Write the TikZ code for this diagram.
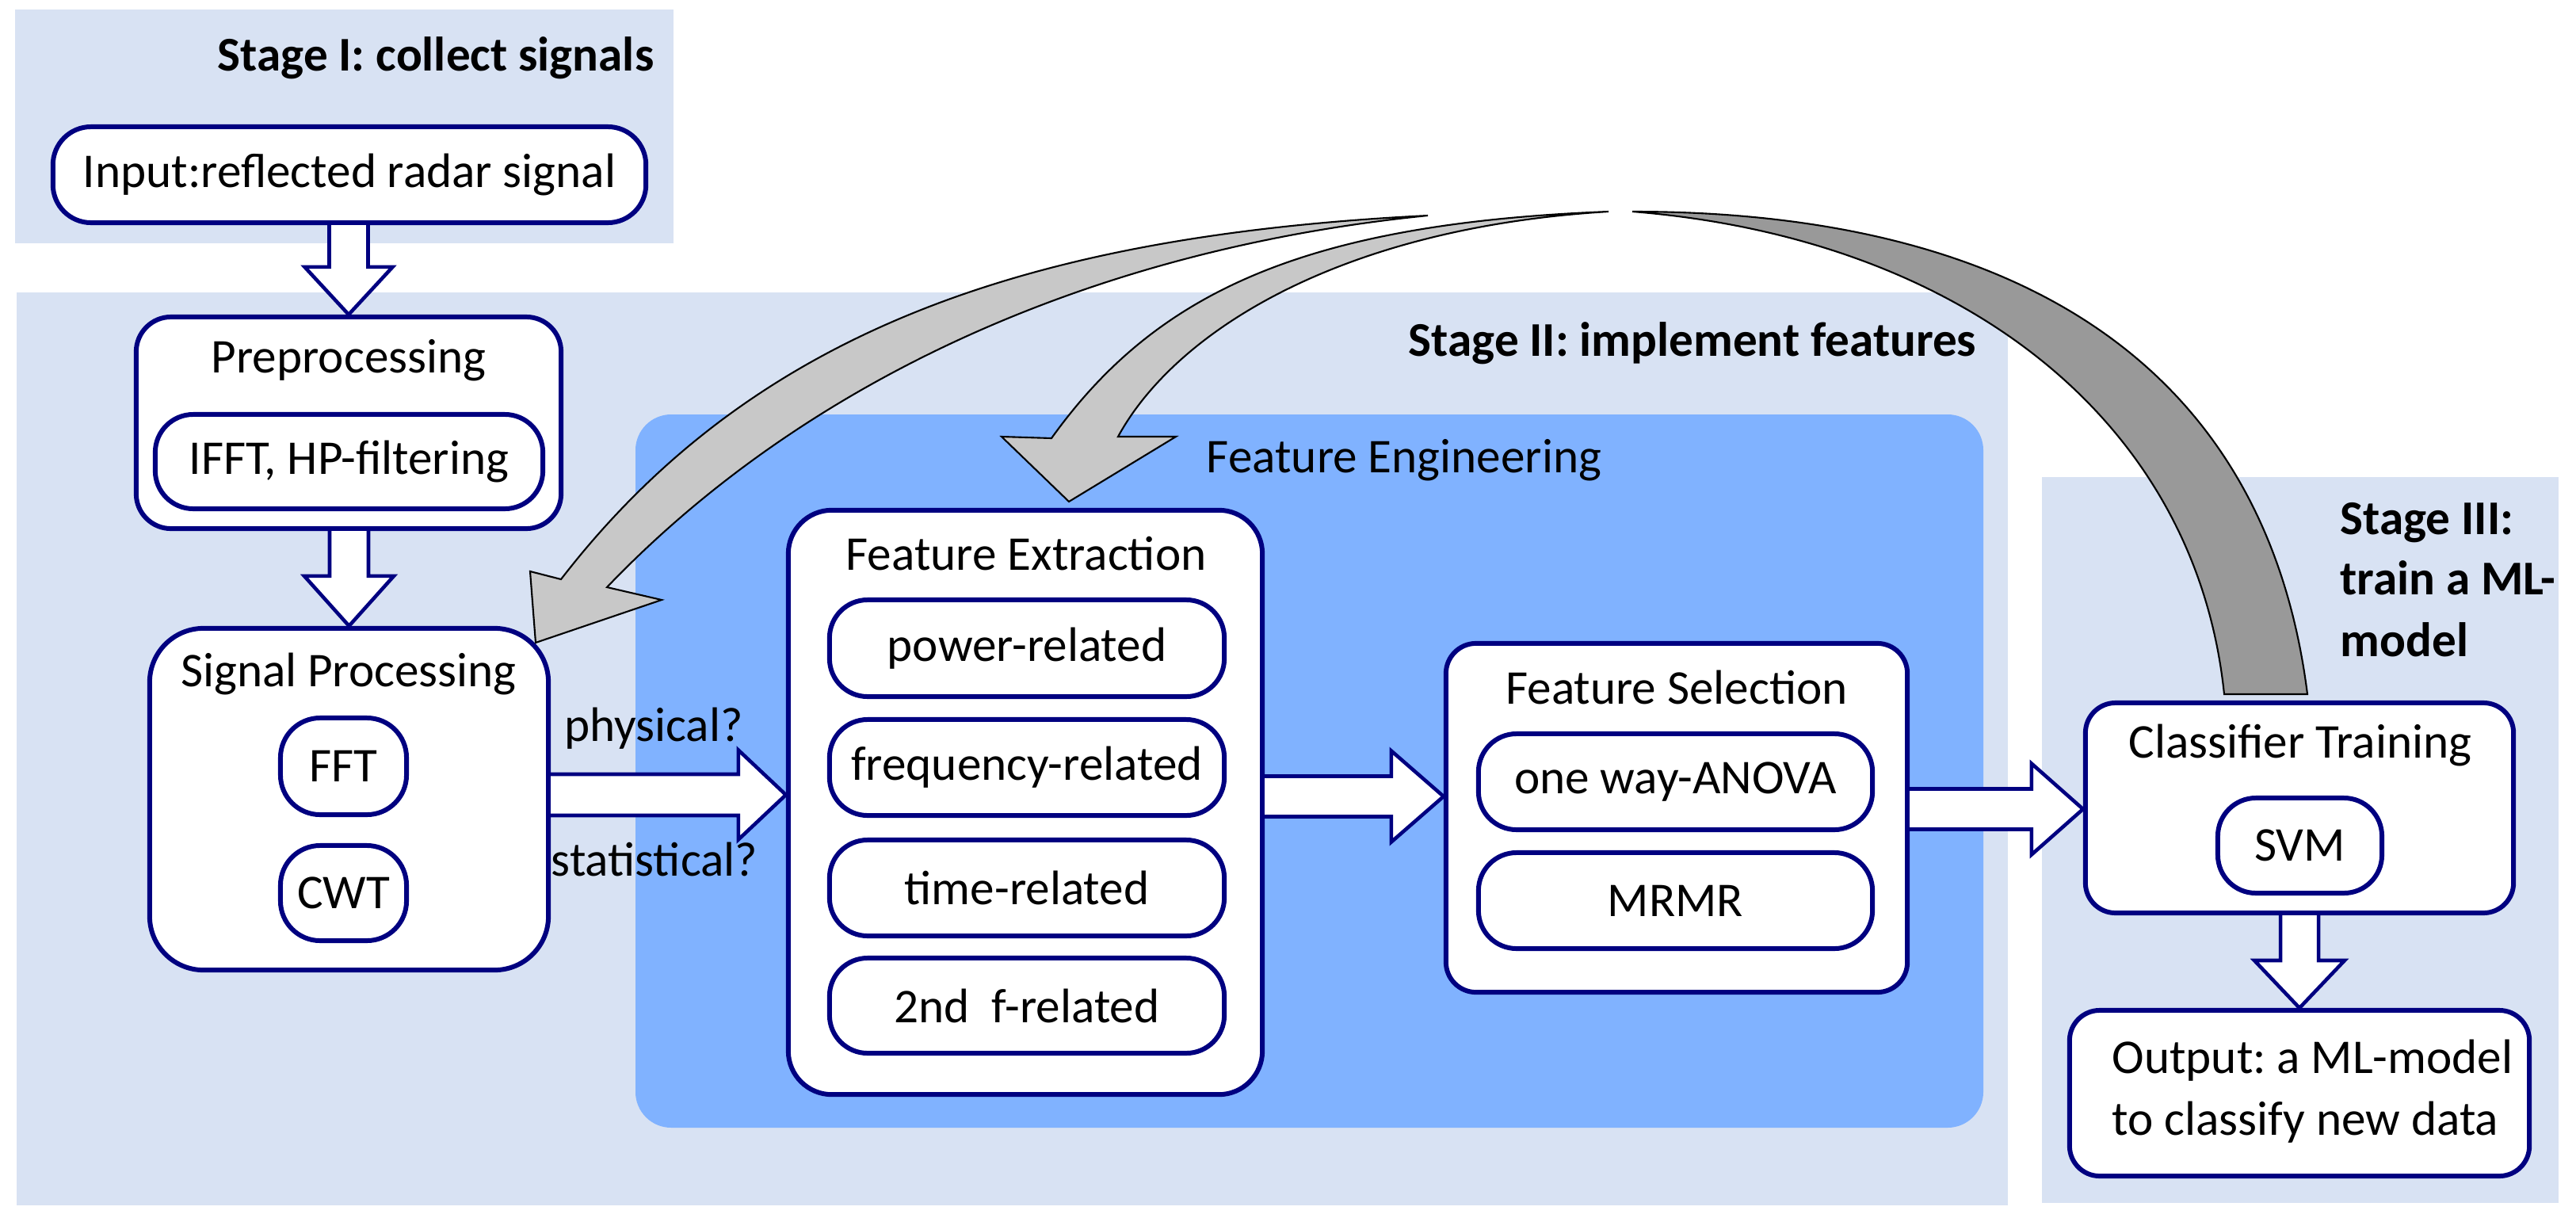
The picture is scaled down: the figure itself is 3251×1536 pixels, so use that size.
\documentclass[tikz,border=0pt]{standalone}
\usepackage{fontspec}
\setmainfont{Carlito}
\frenchspacing
\usetikzlibrary{calc}
\definecolor{navy}{RGB}{0,0,128}
\definecolor{stagefill}{RGB}{216,226,243}
\definecolor{fefill}{RGB}{128,178,255}
\definecolor{lgray}{RGB}{200,200,200}
\definecolor{dgray}{RGB}{153,153,153}
\tikzset{
  box/.style={draw=navy, line width=1.7pt, fill=white, inner sep=0pt, align=center},
  txt/.style={inner sep=0pt, anchor=base},
  stagelbl/.style={inner sep=0pt, font=\fontsize{17.4pt}{22.2pt}\selectfont\bfseries},
  barrow/.style={draw=navy, line width=1.3pt, fill=white, line join=miter},
  curved/.style={draw=black, line width=0.6pt, line join=miter},
}
% vertical block arrow: #1 from anchor, #2 to anchor (tip), #3 shaft half width, #4 head half width, #5 head length
\newcommand\VArrow[5]{%
  \filldraw[barrow] ($(#2|-#1)+(-#3,0)$) -- ($(#2)+(-#3,-#5)$) -- ($(#2)+(-#4,-#5)$) -- (#2)
    -- ($(#2)+(#4,-#5)$) -- ($(#2)+(#3,-#5)$) -- ($(#2|-#1)+(#3,0)$);}
% horizontal block arrow: #1 from anchor, #2 to anchor, #3 y offset of tip, #4 shaft half, #5 head half, #6 head length
\newcommand\HArrow[6]{%
  \coordinate (hatip) at ($(#2)+(0,#3)$);
  \filldraw[barrow] ($(#1|-hatip)+(0,-#4)$) -- ($(hatip)+(-#6,-#4)$) -- ($(hatip)+(-#6,-#5)$) -- (hatip)
    -- ($(hatip)+(-#6,#5)$) -- ($(hatip)+(-#6,#4)$) -- ($(#1|-hatip)+(0,#4)$);}
\begin{document}
\begin{tikzpicture}[x=0.01cm, y=-0.01cm, font=\fontsize{17.4pt}{22.2pt}\selectfont]
\useasboundingbox (0,0) rectangle (3251,1536);
% stage backgrounds
\fill[stagefill] (19,12) rectangle (850,307);
\fill[stagefill] (21,369) rectangle (2534,1521);
\fill[stagefill] (2577,602) rectangle (3229,1518);
\fill[fefill, rounded corners=0.45cm] (802,523) rectangle (2503,1423);
% stage labels
\node[stagelbl, anchor=base east] (s1) at (826,89) {Stage I: collect signals};
\node[stagelbl, anchor=base east] (s2) at (2495,449) {Stage II: implement features};
\node[stagelbl, anchor=base west] (s3a) at (2953,674) {Stage III:};
\node[stagelbl, anchor=base west] (s3b) at (2953,750) {train a ML-};
\node[stagelbl, anchor=base west] (s3c) at (2953,828) {model};
\node[txt] (fe) at (1772,596) {Feature Engineering};
% stage I
\node[box, rounded corners=0.48cm, minimum width=7.48cm, minimum height=1.21cm] (input) at (441,220.5) {Input:reflected radar signal};
% preprocessing
\node[box, rounded corners=0.44cm, minimum width=5.36cm, minimum height=2.67cm] (preproc) at (440,533.5) {};
\node[txt] (preproct) at (440,470) {Preprocessing};
\node[box, rounded corners=0.48cm, minimum width=4.89cm, minimum height=1.19cm] (ifft) at (440.5,582.5) {IFFT, HP-filtering};
% signal processing
\node[box, rounded corners=0.68cm, minimum width=5.03cm, minimum height=4.31cm] (sp) at (440.5,1008.5) {};
\node[txt] (spt) at (440,866) {Signal Processing};
\node[box, rounded corners=0.5cm, minimum width=1.59cm, minimum height=1.22cm] (fft) at (433.5,967) {FFT};
\node[box, rounded corners=0.5cm, minimum width=1.59cm, minimum height=1.20cm] (cwt) at (433.5,1127) {CWT};
% feature extraction
\node[box, rounded corners=0.55cm, minimum width=5.98cm, minimum height=7.37cm] (fext) at (1294,1012.5) {};
\node[txt] (fextt) at (1295,719) {Feature Extraction};
\node[box, rounded corners=0.48cm, minimum width=4.98cm, minimum height=1.22cm] (power) at (1296,818) {power-related};
\node[box, rounded corners=0.48cm, minimum width=4.98cm, minimum height=1.21cm] (freq) at (1296,968.5) {frequency-related};
\node[box, rounded corners=0.48cm, minimum width=4.98cm, minimum height=1.21cm] (time) at (1296,1120.5) {time-related};
\node[box, rounded corners=0.48cm, minimum width=4.98cm, minimum height=1.20cm] (second) at (1296,1269) {2nd\ \ f-related};
% feature selection
\node[box, rounded corners=0.38cm, minimum width=5.82cm, minimum height=4.40cm] (fs) at (2116,1032) {};
\node[txt] (fst) at (2116,888) {Feature Selection};
\node[box, rounded corners=0.48cm, minimum width=4.97cm, minimum height=1.21cm] (anova) at (2114.5,986.5) {one way-ANOVA};
\node[box, rounded corners=0.48cm, minimum width=4.97cm, minimum height=1.21cm] (mrmr) at (2114.5,1136.5) {MRMR};
% classifier
\node[box, rounded corners=0.38cm, minimum width=5.40cm, minimum height=2.65cm] (ct) at (2902,1019.5) {};
\node[txt] (ctt) at (2903,956) {Classifier Training};
\node[box, rounded corners=0.48cm, minimum width=2.07cm, minimum height=1.20cm] (svm) at (2902.5,1067) {SVM};
\node[box, rounded corners=0.38cm, minimum width=5.80cm, minimum height=2.09cm] (out) at (2902,1379.5) {};
\node[txt, anchor=base west] (outa) at (2665,1354) {Output: a ML-model};
\node[txt, anchor=base west] (outb) at (2665,1432) {to classify new data};
% block arrows
\VArrow{input.south}{preproc.north}{24.5}{55.5}{60}
\VArrow{preproc.south}{sp.north}{24.5}{56.5}{63}
\HArrow{sp.east}{fext.west}{-9.5}{26}{56.5}{60}
\HArrow{fext.east}{fs.west}{-27}{25.5}{57.5}{66}
\HArrow{fs.east}{ct.west}{1.5}{25.5}{57.5}{65}
\VArrow{ct.south}{out.north}{24}{57}{60}
\node[txt] (phys) at (825,935) {physical?};
\node[txt] (stat) at (826,1105) {statistical?};
% curved feedback arrows (tail leaves the top of Classifier Training)
\filldraw[curved, fill=dgray] (2912,876) .. controls (2859,456) and (2540,267) .. (2060,267)
  .. controls (2470,299.8) and (2770.6,526) .. (2807,876) -- cycle;
\filldraw[curved, fill=lgray] (2030,267) .. controls (1650,282) and (1460.4,366.7) .. (1327,553)
  -- (1264,551) -- (1349,633) -- (1484,551) -- (1411,551)
  .. controls (1483,419) and (1690,287.4) .. (2030,267) -- cycle;
\filldraw[curved, fill=lgray] (1802,272) .. controls (1302,297) and (952,415) .. (708,731)
  -- (669,721) -- (676,811) -- (835,757) -- (766,741)
  .. controls (1014,482) and (1377,314.5) .. (1802,272) -- cycle;
\end{tikzpicture}
\end{document}
